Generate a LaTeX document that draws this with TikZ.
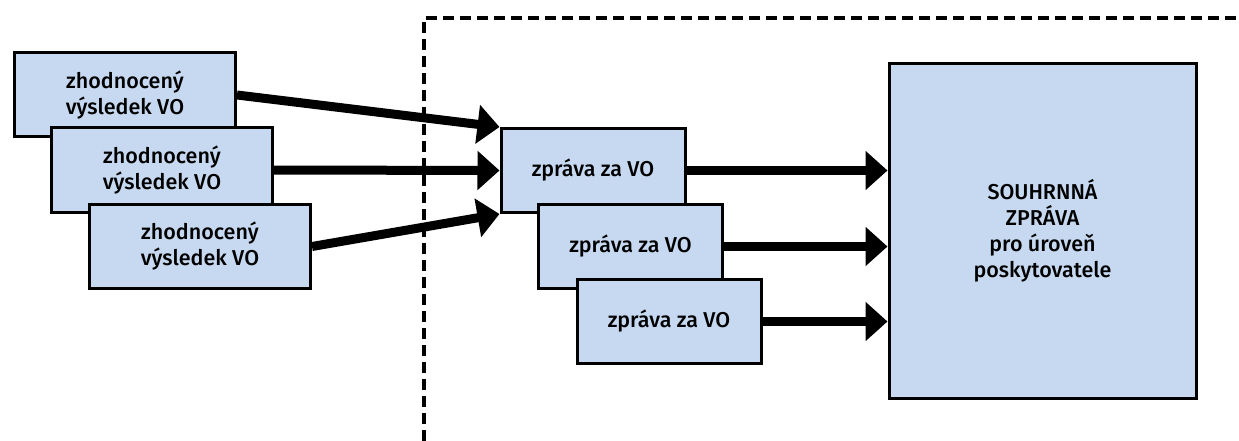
\documentclass[tikz,border=0pt]{standalone}
\usepackage{fontspec}
\setmainfont{Fira Sans}[UprightFont=* Medium]
\usetikzlibrary{arrows.meta,positioning}
\definecolor{boxblue}{RGB}{198,217,240}
\tikzset{
  vobox/.style={
    draw=black,
    line width=3pt,
    fill=boxblue,
    minimum width=221pt,
    minimum height=84pt,
    align=center,
    inner sep=0pt,
    font=\fontsize{21.5}{26}\selectfont
  },
  zpbox/.style={
    vobox,
    minimum width=184pt
  },
  thickarrow/.style={
    line width=9pt,
    -{Triangle[length=22pt,width=38pt]}
  }
}
\begin{document}
\begin{tikzpicture}[x=1pt,y=-1pt]
        \useasboundingbox (0,0) rectangle (1239,441);
        % dashed boundary
        \draw[
          line width=4pt,
          dash pattern=on 11pt off 6pt
        ] (424,441) -- (424,18) -- (1239,18);

        % evaluated results
        \node[vobox] (vo1) at (125,95) {zhodnocený\\výsledek VO};
        \node[vobox] (vo2) at (162,170) {zhodnocený\\výsledek VO};
        \node[vobox] (vo3) at (200,246.5) {zhodnocený\\výsledek VO};

        % reports
        \node[zpbox] (zp1) at (593,170.5) {zpráva za VO};
        \node[zpbox] (zp2) at (630.5,246.5) {zpráva za VO};
        \node[zpbox] (zp3) at (669,321.5) {zpráva za VO};

        % summary report
        \node[
          vobox,
          minimum width=307pt,
          minimum height=334pt
        ] (summary) at (1042.5,231) {SOUHRNNÁ\\ZPRÁVA\\pro úroveň\\poskytovatele};

        % arrows into the report
        \draw[thickarrow] (vo1.east) -- (zp1.north west);
        \draw[thickarrow] (vo2.east) -- (zp1.west);
        \draw[thickarrow] (vo3.east) -- (zp1.south west);

        % arrows into the summary
        \foreach \r in {zp1,zp2,zp3}
          \draw[thickarrow] (\r.east) -- (\r.east -| summary.west);
      \end{tikzpicture}
\end{document}
